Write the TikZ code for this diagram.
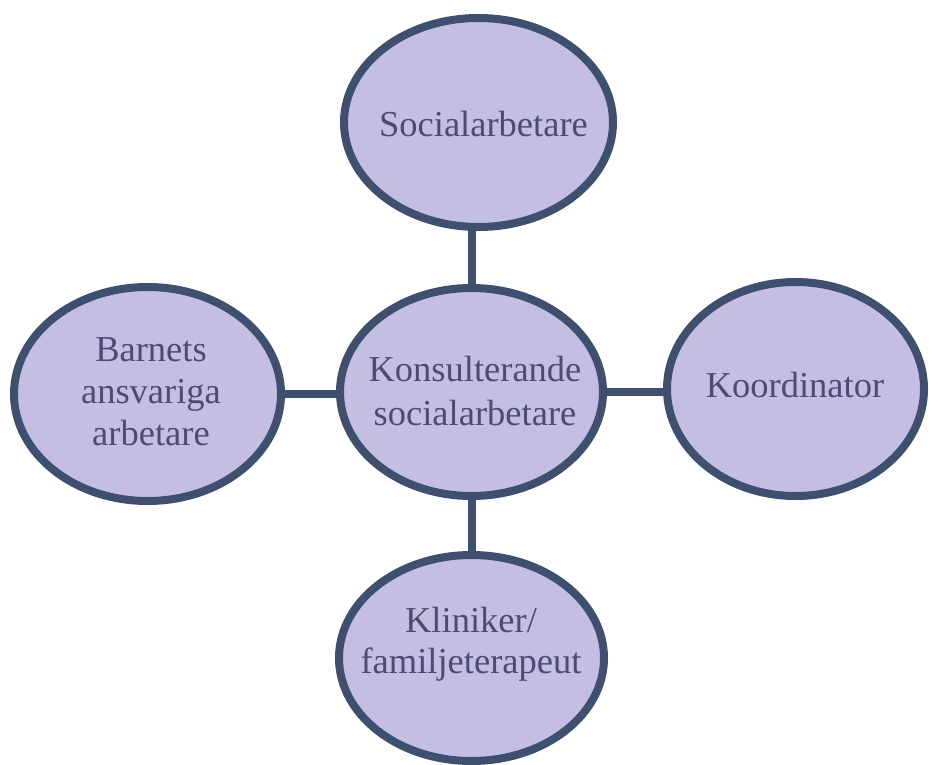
\documentclass[tikz,border=0pt]{standalone}
\usepackage{fontspec}
\setmainfont{Liberation Serif}
\usetikzlibrary{shapes.geometric,backgrounds}

\definecolor{bubblefill}{RGB}{197,190,227}
\definecolor{bubbleline}{RGB}{62,79,112}
\definecolor{bubbletext}{RGB}{76,76,114}

\tikzset{
  bubble/.style={ellipse, draw=bubbleline, fill=bubblefill, line width=8pt,
                 inner sep=0pt, outer sep=0pt},
  txt/.style={text=bubbletext, align=center, inner sep=0pt,
              font=\fontsize{36.5}{42}\selectfont},
  link/.style={draw=bubbleline, line width=8pt}
}

\begin{document}
\begin{tikzpicture}[x=1pt,y=-1pt]
  \useasboundingbox (0,0) rectangle (929,765);

  % the five roles
  \node[bubble, minimum width=269pt, minimum height=209pt] (top) at (478.5,122.5) {};
  \node[bubble, minimum width=267pt, minimum height=214pt] (lft) at (147.5,394) {};
  \node[bubble, minimum width=263pt, minimum height=208pt] (ctr) at (471.5,392) {};
  \node[bubble, minimum width=257pt, minimum height=214pt] (rgt) at (795.5,389) {};
  \node[bubble, minimum width=265pt, minimum height=206pt] (bot) at (471.5,658) {};

  % links from the consulting social worker to the others
  \begin{pgfonlayer}{background}
    \path[link] (ctr.center) -- (ctr.center |- top.center);
    \path[link] (lft.center) -- (lft.center -| ctr.center);
    \path[link] (ctr.center) -- (ctr.center -| rgt.center);
    \path[link] (bot.center) -- (bot.center |- ctr.center);
  \end{pgfonlayer}

  % labels
  \node[txt] (ttop) at (483.5,124.5) {Socialarbetare};
  \node[txt] (tlft) at (151,391.5) {Barnets\\ansvariga\\arbetare};
  \node[txt, font=\fontsize{36.5}{44}\selectfont] (tctr) at (475,391) {Konsulterande\\socialarbetare};
  \node[txt] (trgt) at (795,385.5) {Koordinator};
  \node[txt, font=\fontsize{36.5}{41}\selectfont] (tbot) at (471,644) {Kliniker/\\familjeterapeut};
\end{tikzpicture}
\end{document}
